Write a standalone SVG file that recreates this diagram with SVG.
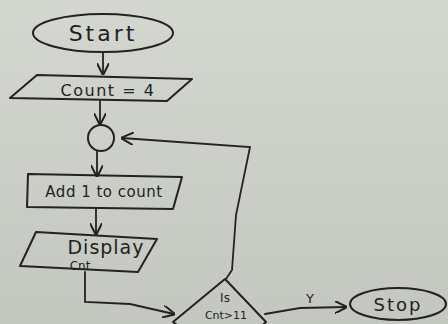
<svg xmlns="http://www.w3.org/2000/svg" width="448" height="324" viewBox="0 0 448 324">
<defs>
<marker id="ah" viewBox="0 0 10 10" refX="9" refY="5" markerWidth="7" markerHeight="7" orient="auto-start-reverse">
<path d="M0,0 L10,5 L0,10" fill="none" stroke="#222" stroke-width="1.6"/>
</marker>
<linearGradient id="bg" x1="0" y1="0" x2="0" y2="1">
<stop offset="0" stop-color="#d4d6d0"/>
<stop offset="1" stop-color="#c4c7c0"/>
</linearGradient>
</defs>
<style>
.s{fill:none;stroke:#222;stroke-width:2;stroke-linejoin:round;stroke-linecap:round}
.c{fill:none;stroke:#222;stroke-width:1.8;stroke-linecap:round}
.t{font-family:"DejaVu Sans",sans-serif;fill:#222;text-anchor:middle}
</style>
<rect width="448" height="324" fill="url(#bg)"/>
<g id="connectors">
<line class="c" x1="103" y1="53" x2="103" y2="74" marker-end="url(#ah)"/>
<line class="c" x1="100" y1="101" x2="100" y2="124" marker-end="url(#ah)"/>
<line class="c" x1="97" y1="151" x2="97" y2="176" marker-end="url(#ah)"/>
<line class="c" x1="96" y1="209" x2="96" y2="234" marker-end="url(#ah)"/>
<polyline class="c" points="85,272 85,302 130,304 174,314" marker-end="url(#ah)"/>
<polyline class="c" points="226,279 232,270 236,215 250,147 122,138" marker-end="url(#ah)"/>
<polyline class="c" points="265,314 300,308 346,307" marker-end="url(#ah)"/>
<text class="t" x="310" y="303" font-size="13">Y</text>
</g>
<g id="start">
<ellipse class="s" cx="103" cy="33" rx="70" ry="19"/>
<text class="t" x="103" y="41" font-size="22" letter-spacing="3">Start</text>
</g>
<g id="count">
<polygon class="s" points="37,75 192,79 167,101 10,98"/>
<text class="t" x="108" y="96" font-size="16" letter-spacing="1.5">Count = 4</text>
</g>
<g id="connector">
<circle class="s" cx="101" cy="138" r="13"/>
</g>
<g id="add">
<polygon class="s" points="28,174 182,177 173,209 27,207"/>
<text class="t" x="104" y="197" font-size="15" letter-spacing="0.5">Add 1 to count</text>
</g>
<g id="display">
<polygon class="s" points="36,232 157,239 138,272 20,266"/>
<text class="t" x="106" y="254" font-size="19" letter-spacing="1">Display</text>
<text class="t" x="80" y="270" font-size="12">Cnt</text>
</g>
<g id="decision">
<polygon class="s" points="225,279 266,322 225,360 173,322"/>
<text class="t" x="225" y="302" font-size="12">Is</text>
<text class="t" x="226" y="319" font-size="11">Cnt&gt;11</text>
</g>
<g id="stop">
<ellipse class="s" cx="398" cy="304" rx="48" ry="16"/>
<text class="t" x="398" y="311" font-size="18" letter-spacing="2">Stop</text>
</g>
</svg>
